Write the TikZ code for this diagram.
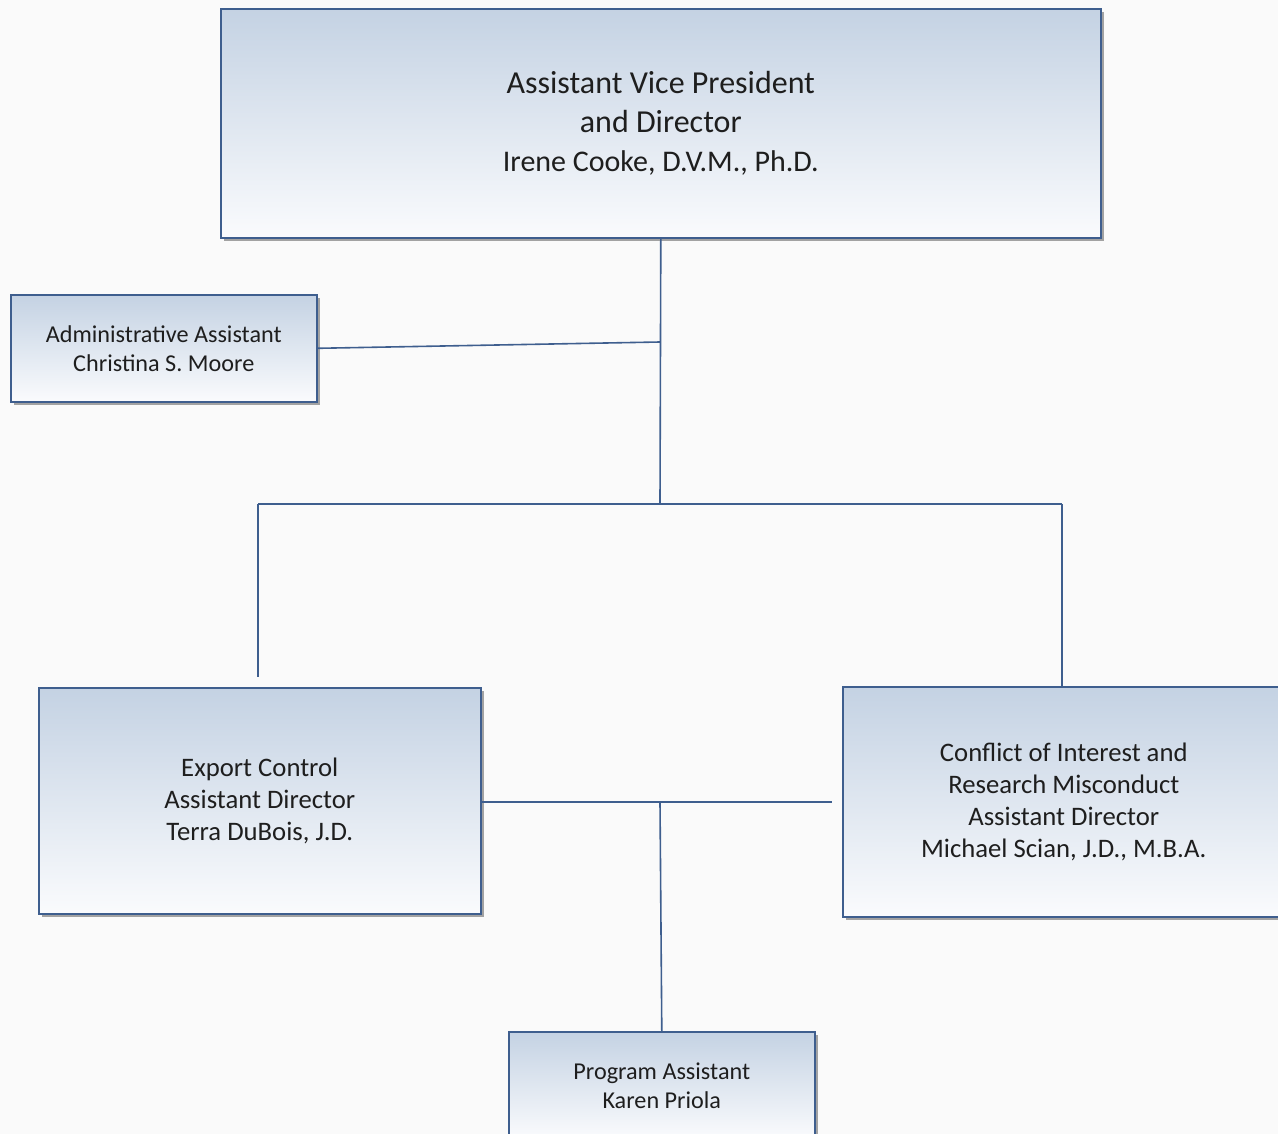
\documentclass[tikz,border=0pt]{standalone}
\usepackage{fontspec}
\setmainfont{Carlito}
\usetikzlibrary{shadows}
\definecolor{edgeblue}{RGB}{62,94,142}
\definecolor{boxtop}{RGB}{196,210,227}
\definecolor{boxbot}{RGB}{250,251,253}
\definecolor{bgcol}{RGB}{250,250,250}
\definecolor{txt}{RGB}{30,30,30}
\tikzset{
  orgbox/.style={draw=edgeblue, line width=1.6pt, top color=boxtop, bottom color=boxbot,
    shading angle=0, anchor=north west, align=center, text=txt, inner sep=0pt,
    drop shadow={shadow xshift=3pt, shadow yshift=-3pt, fill=black!45, opacity=0.8}},
  bigtext/.style={font=\fontsize{32}{39}\selectfont},
  midtext/.style={font=\fontsize{26.7}{32}\selectfont},
  smalltext/.style={font=\fontsize{24.2}{29}\selectfont},
  link/.style={draw=edgeblue, line width=1.6pt}
}
\begin{document}
\begin{tikzpicture}[x=1pt,y=-1pt]
\fill[bgcol] (0,0) rectangle (1278,1134);
\clip (0,0) rectangle (1278,1134);
% boxes
\node[orgbox, bigtext, minimum width=880pt, minimum height=229pt] (avp) at (220,8)
  {Assistant Vice President\\ and Director\\ \fontsize{30}{38}\selectfont Irene Cooke, D.V.M., Ph.D.};
\node[orgbox, smalltext, minimum width=306pt, minimum height=107pt] (admin) at (10,294)
  {Administrative Assistant\\ Christina S. Moore};
\node[orgbox, midtext, minimum width=442pt, minimum height=226pt] (exp) at (38,687)
  {Export Control\\ Assistant Director\\ Terra DuBois, J.D.};
\node[orgbox, midtext, minimum width=442pt, minimum height=230pt] (coi) at (842,686)
  {Conflict of Interest and\\ Research Misconduct\\ Assistant Director\\ Michael Scian, J.D., M.B.A.};
\node[orgbox, smalltext, minimum width=306pt, minimum height=107pt] (prog) at (508,1031)
  {Program Assistant\\ Karen Priola};
% junction coordinates
\coordinate (j1) at (660,504);
\coordinate (a1) at (660,342);
\coordinate (jl) at (258,504);
\coordinate (jr) at (1062,504);
\coordinate (el) at (258,677);
\coordinate (m) at (660,802);
\coordinate (mr) at (832,802);
% connectors
\draw[link] (avp.south) -- (j1);
\draw[link] (admin.east) -- (a1);
\draw[link] (jl) -- (jr);
\draw[link] (jl) -- (el);
\draw[link] (jr) -- (jr |- coi.north);
\draw[link] (exp.east |- m) -- (mr);
\draw[link] (m) -- (prog.north);
\end{tikzpicture}
\end{document}
